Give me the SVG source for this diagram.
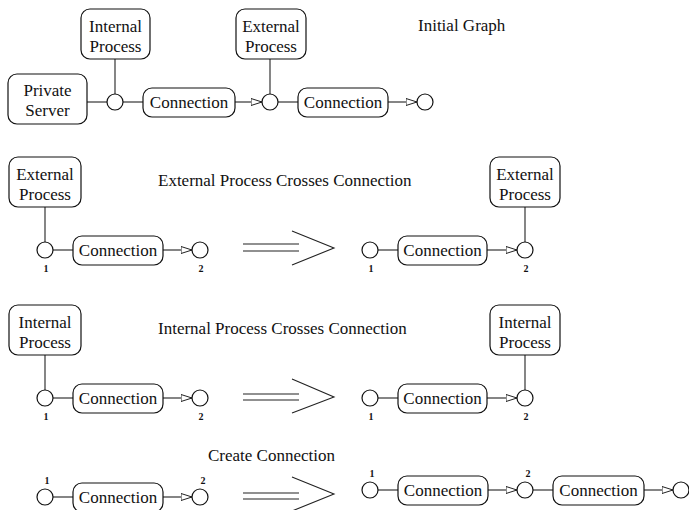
<svg xmlns="http://www.w3.org/2000/svg" width="689" height="510" viewBox="0 0 689 510">
  <style>
    .box { fill: #ffffff; stroke: #111; stroke-width: 1.2; }
    .port { fill: #ffffff; stroke: #111; stroke-width: 1.2; }
    .wire { fill: none; stroke: #222; stroke-width: 1.1; }
    .arrow { fill: none; stroke: #222; stroke-width: 1.1; marker-end: url(#open-tri); }
    .imp { fill: none; stroke: #222; stroke-width: 1.1; }
    .t { font-family: "Liberation Serif", "Times New Roman", serif; font-size: 17px; fill: #111; text-anchor: middle; }
    .title { font-family: "Liberation Serif", "Times New Roman", serif; font-size: 17px; fill: #111; }
    .num { font-family: "Liberation Serif", "Times New Roman", serif; font-size: 10px; font-weight: bold; fill: #111; text-anchor: middle; }
  </style>
  <defs>
    <marker id="open-tri" viewBox="0 0 12 8" refX="11.5" refY="4" markerWidth="12" markerHeight="8" markerUnits="userSpaceOnUse" orient="auto">
      <path d="M0.5,0.5 L11.5,4 L0.5,7.5 Z" fill="#ffffff" stroke="#222" stroke-width="1"/>
    </marker>
  </defs>

  <rect width="689" height="510" fill="#ffffff"/>

  <!-- connectors -->
  <g id="connectors">
    <!-- initial graph -->
    <line class="wire" x1="115" y1="59" x2="115" y2="94"/>
    <line class="wire" x1="87" y1="102" x2="107" y2="102"/>
    <line class="wire" x1="123" y1="102" x2="143" y2="102"/>
    <line class="arrow" x1="235" y1="102" x2="262" y2="102"/>
    <line class="wire" x1="270" y1="59" x2="270" y2="94"/>
    <line class="wire" x1="278" y1="102" x2="298" y2="102"/>
    <line class="arrow" x1="388" y1="102" x2="417" y2="102"/>

    <!-- external process crosses connection -->
    <line class="wire" x1="45" y1="207" x2="45" y2="242"/>
    <line class="wire" x1="53" y1="250" x2="73" y2="250"/>
    <line class="arrow" x1="163" y1="250" x2="192" y2="250"/>
    <line class="wire" x1="378" y1="250" x2="398" y2="250"/>
    <line class="arrow" x1="487" y1="250" x2="517" y2="250"/>
    <line class="wire" x1="525" y1="207" x2="525" y2="242"/>

    <!-- internal process crosses connection -->
    <line class="wire" x1="45" y1="355" x2="45" y2="390"/>
    <line class="wire" x1="53" y1="398" x2="73" y2="398"/>
    <line class="arrow" x1="163" y1="398" x2="192" y2="398"/>
    <line class="wire" x1="378" y1="398" x2="398" y2="398"/>
    <line class="arrow" x1="487" y1="398" x2="517" y2="398"/>
    <line class="wire" x1="525" y1="355" x2="525" y2="390"/>

    <!-- create connection -->
    <line class="wire" x1="53" y1="497" x2="73" y2="497"/>
    <line class="arrow" x1="163" y1="497" x2="192" y2="497"/>
    <line class="wire" x1="378" y1="490" x2="398" y2="490"/>
    <line class="arrow" x1="488" y1="490" x2="517" y2="490"/>
    <line class="wire" x1="533" y1="490" x2="553" y2="490"/>
    <line class="arrow" x1="644" y1="490" x2="673" y2="490"/>

    <!-- rewrite arrows -->
    <g id="rewrite-1">
      <line class="imp" x1="243" y1="244" x2="299" y2="244"/>
      <line class="imp" x1="243" y1="251" x2="299" y2="251"/>
      <polyline class="imp" points="292,231 334,248 292,265"/>
    </g>
    <g id="rewrite-2">
      <line class="imp" x1="243" y1="394" x2="299" y2="394"/>
      <line class="imp" x1="243" y1="400" x2="299" y2="400"/>
      <polyline class="imp" points="292,379 334,397 292,413"/>
    </g>
    <g id="rewrite-3">
      <line class="imp" x1="243" y1="493" x2="299" y2="493"/>
      <line class="imp" x1="243" y1="499" x2="299" y2="499"/>
      <polyline class="imp" points="292,477 334,494 292,511"/>
    </g>
  </g>

  <!-- initial graph -->
  <text class="title" x="418" y="31">Initial Graph</text>
  <g id="private-server">
    <rect class="box" x="8" y="74" width="79" height="50" rx="9"/>
    <text class="t" x="47.5" y="96">Private</text>
    <text class="t" x="47.5" y="116">Server</text>
  </g>
  <g id="internal-process-a">
    <rect class="box" x="81" y="9" width="69" height="50" rx="9"/>
    <text class="t" x="115.5" y="32">Internal</text>
    <text class="t" x="115.5" y="52">Process</text>
  </g>
  <g id="port-a1"><circle class="port" cx="115" cy="102" r="8"/></g>
  <g id="connection-a1">
    <rect class="box" x="143" y="88" width="92" height="29" rx="9"/>
    <text class="t" x="189" y="108">Connection</text>
  </g>
  <g id="port-a2"><circle class="port" cx="270" cy="102" r="8"/></g>
  <g id="external-process-a">
    <rect class="box" x="236" y="9" width="70" height="50" rx="9"/>
    <text class="t" x="271" y="32">External</text>
    <text class="t" x="271" y="52">Process</text>
  </g>
  <g id="connection-a2">
    <rect class="box" x="298" y="88" width="90" height="29" rx="9"/>
    <text class="t" x="343" y="108">Connection</text>
  </g>
  <g id="port-a3"><circle class="port" cx="425" cy="102" r="8"/></g>

  <!-- external process crosses connection -->
  <text class="title" x="158" y="186">External Process Crosses Connection</text>
  <g id="external-process-b1">
    <rect class="box" x="9" y="157" width="72" height="50" rx="9"/>
    <text class="t" x="45" y="180">External</text>
    <text class="t" x="45" y="200">Process</text>
  </g>
  <g id="port-b1"><circle class="port" cx="45" cy="250" r="8"/><text class="num" x="46" y="272">1</text></g>
  <g id="connection-b1">
    <rect class="box" x="73" y="236" width="90" height="29" rx="9"/>
    <text class="t" x="118" y="256">Connection</text>
  </g>
  <g id="port-b2"><circle class="port" cx="200" cy="250" r="8"/><text class="num" x="201" y="272">2</text></g>
  <g id="port-b3"><circle class="port" cx="370" cy="250" r="8"/><text class="num" x="371" y="272">1</text></g>
  <g id="connection-b2">
    <rect class="box" x="398" y="236" width="89" height="29" rx="9"/>
    <text class="t" x="442.5" y="256">Connection</text>
  </g>
  <g id="port-b4"><circle class="port" cx="525" cy="250" r="8"/><text class="num" x="526" y="272">2</text></g>
  <g id="external-process-b2">
    <rect class="box" x="490" y="157" width="70" height="50" rx="9"/>
    <text class="t" x="525" y="180">External</text>
    <text class="t" x="525" y="200">Process</text>
  </g>

  <!-- internal process crosses connection -->
  <text class="title" x="158" y="334">Internal Process Crosses Connection</text>
  <g id="internal-process-c1">
    <rect class="box" x="9" y="305" width="72" height="50" rx="9"/>
    <text class="t" x="45" y="328">Internal</text>
    <text class="t" x="45" y="348">Process</text>
  </g>
  <g id="port-c1"><circle class="port" cx="45" cy="398" r="8"/><text class="num" x="46" y="420">1</text></g>
  <g id="connection-c1">
    <rect class="box" x="73" y="384" width="90" height="29" rx="9"/>
    <text class="t" x="118" y="404">Connection</text>
  </g>
  <g id="port-c2"><circle class="port" cx="200" cy="398" r="8"/><text class="num" x="201" y="420">2</text></g>
  <g id="port-c3"><circle class="port" cx="370" cy="398" r="8"/><text class="num" x="371" y="420">1</text></g>
  <g id="connection-c2">
    <rect class="box" x="398" y="384" width="89" height="29" rx="9"/>
    <text class="t" x="442.5" y="404">Connection</text>
  </g>
  <g id="port-c4"><circle class="port" cx="525" cy="398" r="8"/><text class="num" x="526" y="420">2</text></g>
  <g id="internal-process-c2">
    <rect class="box" x="490" y="305" width="70" height="50" rx="9"/>
    <text class="t" x="525" y="328">Internal</text>
    <text class="t" x="525" y="348">Process</text>
  </g>

  <!-- create connection -->
  <text class="title" x="208" y="461">Create Connection</text>
  <g id="port-d1"><circle class="port" cx="45" cy="497" r="8"/><text class="num" x="47" y="484">1</text></g>
  <g id="connection-d1">
    <rect class="box" x="73" y="483" width="90" height="29" rx="9"/>
    <text class="t" x="118" y="503">Connection</text>
  </g>
  <g id="port-d2"><circle class="port" cx="200" cy="497" r="8"/><text class="num" x="203" y="484">2</text></g>
  <g id="port-d3"><circle class="port" cx="370" cy="490" r="8"/><text class="num" x="372" y="477">1</text></g>
  <g id="connection-d2">
    <rect class="box" x="398" y="476" width="90" height="29" rx="9"/>
    <text class="t" x="443" y="496">Connection</text>
  </g>
  <g id="port-d4"><circle class="port" cx="525" cy="490" r="8"/><text class="num" x="528" y="477">2</text></g>
  <g id="connection-d3">
    <rect class="box" x="553" y="476" width="91" height="29" rx="9"/>
    <text class="t" x="598.5" y="496">Connection</text>
  </g>
  <g id="port-d5"><circle class="port" cx="681" cy="490" r="8"/></g>
</svg>
